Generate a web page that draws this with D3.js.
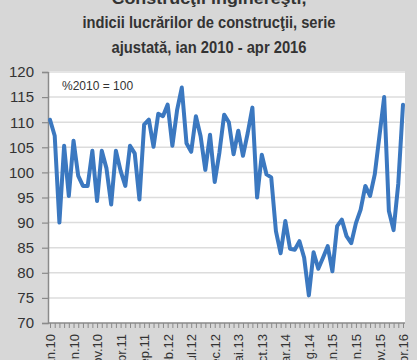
<!DOCTYPE html>
<html><head><meta charset="utf-8">
<script src="https://cdn.jsdelivr.net/npm/d3@7"></script>
<style>html,body{margin:0;padding:0;background:#d7d7d7;overflow:hidden}</style>
</head><body><svg id="c" width="417" height="360"></svg>
<script>
const titleLines = ["Construcţii inginereşti,", "indicii lucrărilor de construcţii, serie", "ajustată, ian 2010 - apr 2016"];
const baseLabel = "%2010 = 100";
const monthNames = ["ian","feb","mar","apr","mai","iun","iul","aug","sep","oct","nov","dec"];
const startYear = 2010, monthCount = 76;
const values = [
  110.5, 107.3, 90.0, 105.3, 95.3, 106.3, 99.3, 97.3, 97.3, 104.3,
  94.3, 104.3, 100.8, 93.6, 104.3, 100.3, 97.3, 105.3, 103.8, 94.6,
  109.5, 110.5, 105.1, 111.7, 111.2, 113.5, 105.3, 112.4, 116.9, 105.8,
  104.1, 111.2, 107.2, 100.5, 107.5, 98.1, 104.0, 111.5, 110.0, 103.6,
  108.3, 103.3, 107.8, 112.9, 95.0, 103.5, 99.6, 99.0, 88.3, 83.9,
  90.3, 84.8, 84.6, 86.3, 83.0, 75.5, 84.1, 80.8, 83.0, 85.3,
  80.3, 89.3, 90.6, 87.3, 85.9, 89.9, 92.6, 97.3, 95.3, 99.6,
  107.3, 115.0, 92.3, 88.5, 97.8, 113.5
];
const yTicks = [70, 75, 80, 85, 90, 95, 100, 105, 110, 115, 120];
const labelEvery = 5;

const categories = d3.range(monthCount).map(i => monthNames[i % 12] + "." + String((startYear + Math.floor(i / 12)) % 100).padStart(2, "0"));

const svg = d3.select("#c");
const W = 417, H = 360;
const plot = {left: 48, right: 405, top: 72, bottom: 323};

svg.append("rect").attr("x", 0).attr("y", 0).attr("width", W).attr("height", H).attr("fill", "#d7d7d7");
svg.append("rect").attr("x", plot.left).attr("y", plot.top - 1).attr("width", plot.right - plot.left).attr("height", plot.bottom - plot.top + 1).attr("fill", "#ffffff");

const x = d3.scaleLinear().domain([0, monthCount - 1]).range([50, 403]);
const y = d3.scaleLinear().domain([70, 120]).range([plot.bottom, plot.top]);

// gridlines
svg.append("g").selectAll("line").data(yTicks.filter(t => t > 70)).join("line")
  .attr("x1", plot.left).attr("x2", plot.right)
  .attr("y1", d => y(d)).attr("y2", d => y(d))
  .attr("stroke", "#dcdcdc").attr("stroke-width", 1.5);

// title
const tSizes = [195, 253, 195];
const tY = [4, 28, 53];
svg.append("g").selectAll("text").data(titleLines).join("text")
  .attr("x", 209).attr("y", (d, i) => tY[i])
  .attr("text-anchor", "middle")
  .attr("textLength", (d, i) => tSizes[i]).attr("lengthAdjust", "spacingAndGlyphs")
  .style("font-family", "'Liberation Sans Narrow','Arial Narrow','Liberation Sans',sans-serif")
  .style("font-weight", "bold").style("font-size", "17px").attr("fill", "#333")
  .text(d => d);

// y axis
const yAxis = d3.axisLeft(y).tickValues(yTicks).tickSize(6).tickPadding(8).tickFormat(d3.format("d"));
const gy = svg.append("g").attr("transform", `translate(${plot.left},0)`).call(yAxis);
gy.select(".domain").attr("stroke", "#8a8a8a").attr("stroke-width", 1.5);
gy.selectAll(".tick line").attr("stroke", "#8a8a8a").attr("stroke-width", 1.2);
gy.selectAll(".tick text").style("font-family", "'Liberation Sans',Arial,sans-serif").style("font-size", "15px").attr("fill", "#333");

// x axis
const xAxis = d3.axisBottom(x).tickValues(d3.range(monthCount)).tickSize(5).tickSizeOuter(0)
  .tickFormat(i => i % labelEvery === 0 ? categories[i] : "");
const gx = svg.append("g").attr("transform", `translate(0,${plot.bottom})`).call(xAxis);
gx.select(".domain").attr("stroke", "#8a8a8a").attr("stroke-width", 1.5).attr("d", `M${plot.left},0H${plot.right}`);
gx.selectAll(".tick line").attr("stroke", "#8a8a8a").attr("stroke-width", 1);
gx.selectAll(".tick text")
  .style("font-family", "'Liberation Sans',Arial,sans-serif").style("font-size", "13px").attr("fill", "#333")
  .attr("text-anchor", "end").attr("transform", "rotate(-90)")
  .attr("x", -11).attr("y", 0).attr("dy", "0.35em");

// base label
svg.append("text").attr("x", 62).attr("y", 90).text(baseLabel)
  .style("font-family", "'Liberation Sans',Arial,sans-serif").style("font-size", "12px").attr("fill", "#333");

// line
const line = d3.line().x((d, i) => x(i)).y(d => y(d));
svg.append("path").datum(values).attr("d", line)
  .attr("fill", "none").attr("stroke", "#3b78c0").attr("stroke-width", 4)
  .attr("stroke-linejoin", "round").attr("stroke-linecap", "round");
</script>
</body></html>
